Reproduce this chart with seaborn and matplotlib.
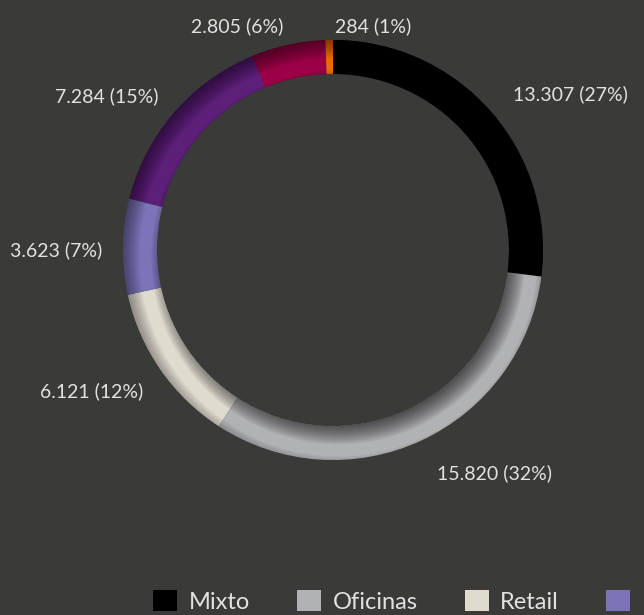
import matplotlib.pyplot as plt
import numpy as np
import seaborn as sns
from matplotlib.patches import Circle, Patch, Wedge

categories = ["Mixto", "Oficinas", "Retail", "Logístico", "Industrial", "Hotelero", "Otros"]
values = [13307, 15820, 6121, 3623, 7284, 2805, 284]
colors = ["#000000", "#b1b2b4", "#e0dbcf", "#7b74b9", "#5e1f7b", "#9b0047", "#ea6d00"]

BG = "#3a3a38"
TXT = "#e2e2e2"

sns.set_theme(style="white")
plt.rcParams["font.family"] = ["Lato", "DejaVu Sans"]

W, H = 644, 615
fig = plt.figure(figsize=(W / 100, H / 100), dpi=100, facecolor=BG)
cx, cy, R = 333, 250, 210
ax = fig.add_axes([(cx - R) / W, (H - cy - R) / H, 2 * R / W, 2 * R / H])
ax.set_facecolor(BG)

width = 34 / R
r_in = 1 - width
wedges, _ = ax.pie(values, colors=colors, startangle=90, counterclock=False,
                   radius=1.0, wedgeprops=dict(width=width, linewidth=0))

# inset shadow on the ring (light from top-left)
clip = Wedge((0, 0), 1.0, 0, 360, width=width, facecolor="none", edgecolor="none")
ax.add_patch(clip)
ox, oy, blur, n = 0.025, -0.035, 0.06, 14
for i in range(n):
    r = r_in - blur + 2 * blur * i / n
    c = Circle((ox, oy), r, facecolor="black", edgecolor="none", alpha=0.065)
    ax.add_patch(c)
    c.set_clip_path(clip)
    ro = 1 + blur - 2 * blur * i / n
    o = Wedge((ox, oy), 2.0, 0, 360, width=2.0 - ro, facecolor="black",
              edgecolor="none", alpha=0.05)
    ax.add_patch(o)
    o.set_clip_path(clip)

# data labels
total = sum(values)
start = 90.0
for v in values:
    frac = v / total
    mid = np.deg2rad(start - frac * 360 / 2)
    start -= frac * 360
    x, y = 1.1 * np.cos(mid), min(1.15 * np.sin(mid), 1.085) - 0.02
    ha = "left" if np.cos(mid) > -0.05 else "right"
    if ha == "left":
        x += 0.03
    label = f"{v:,}".replace(",", ".") + f" ({frac * 100:.0f}%)"
    ax.text(x, y, label, ha=ha, va="center", fontsize=14, color=TXT)

ax.set_xlim(-1, 1)
ax.set_ylim(-1, 1)
ax.axis("off")

handles = [Patch(facecolor=c, edgecolor="none") for c in colors]
leg = fig.legend(handles, categories, loc="lower left", bbox_to_anchor=(151 / W, 0.0),
                 ncol=len(categories), frameon=False, fontsize=17,
                 handlelength=1.0, handleheight=1.0, handletextpad=0.5,
                 columnspacing=2.0, borderpad=0.1, borderaxespad=0)
for t in leg.get_texts():
    t.set_color(TXT)

fig.savefig("out.png", dpi=100, facecolor=BG)
